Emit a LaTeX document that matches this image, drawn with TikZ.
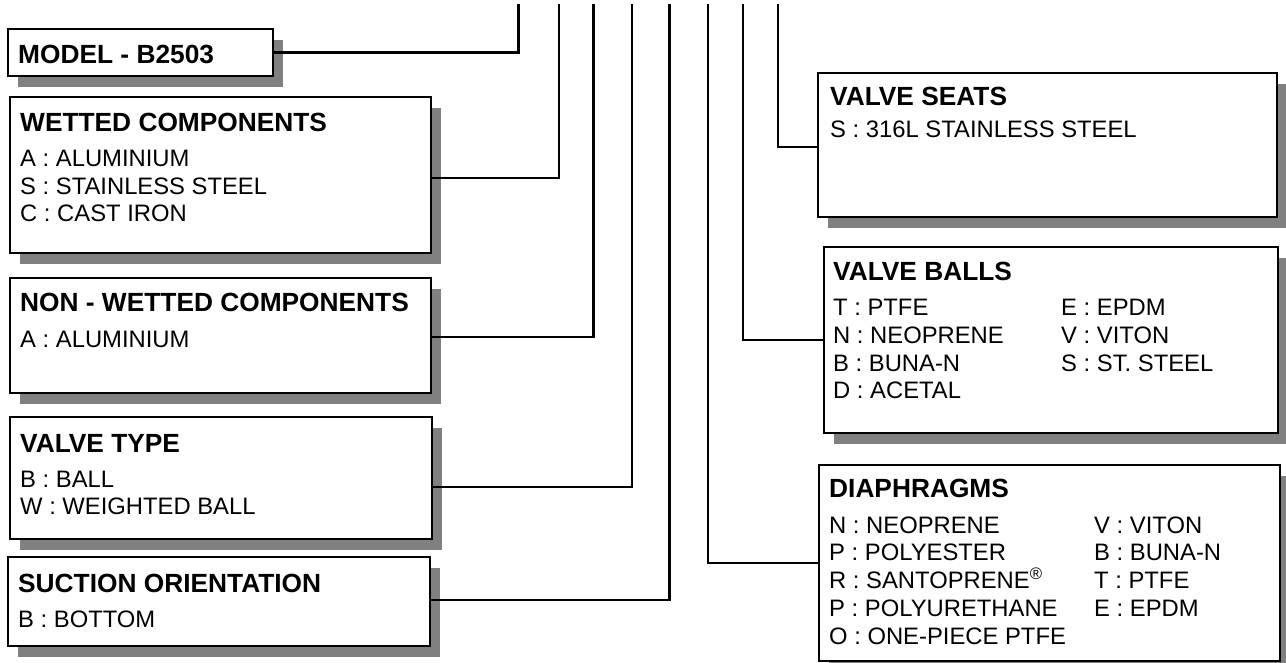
\documentclass[tikz,border=0pt]{standalone}
\usepackage{fontspec}
\setmainfont{Liberation Sans}
\usetikzlibrary{shadows}
\definecolor{shadowgray}{HTML}{808080}
\begin{document}
\begin{tikzpicture}[x=1pt,y=1pt,
  box/.style={rectangle, draw=black, line width=2.9pt, fill=white, inner sep=0pt, outer sep=0pt,
    anchor=north west,
    drop shadow={shadow xshift=10pt, shadow yshift=-11pt, fill=shadowgray, opacity=1}},
  conn/.style={line width=2.8pt, line join=miter},
  title/.style={inner sep=0pt, anchor=base west, font=\fontsize{26.3}{30}\selectfont\bfseries},
  body/.style={inner sep=0pt, anchor=base west, font=\fontsize{23.8}{27.5}\selectfont}]
\useasboundingbox (0,0) rectangle (1286,-663);
\clip (0,0) rectangle (1286,-663);

% top ends of the code lines
\coordinate (t1) at (518.5,-4);
\coordinate (t2) at (559,-4);
\coordinate (t3) at (593.5,-4);
\coordinate (t4) at (632,-4);
\coordinate (t5) at (669.5,-4);
\coordinate (t6) at (708,-4);
\coordinate (t7) at (743,-4);
\coordinate (t8) at (778,-4);

% boxes
\node[box, minimum width=265pt, minimum height=47pt] (model) at (8,-29) {};
\node[box, minimum width=421pt, minimum height=156pt] (wet) at (10,-97) {};
\node[box, minimum width=421pt, minimum height=115pt] (nonwet) at (10,-278) {};
\node[box, minimum width=422pt, minimum height=122pt] (vtype) at (10,-417) {};
\node[box, minimum width=422pt, minimum height=89pt] (suction) at (8,-557) {};
\node[box, minimum width=459pt, minimum height=144pt] (seats) at (818,-73) {};
\node[box, minimum width=454pt, minimum height=186pt] (balls) at (824,-247) {};
\node[box, minimum width=461pt, minimum height=196pt] (diaph) at (819,-465) {};

% texts
\node[title] (modelT) at (18,-64) {MODEL - B2503};

\node[title] (wetT) at (20,-132) {WETTED COMPONENTS};
\foreach \t [count=\i] in {A : ALUMINIUM, S : STAINLESS STEEL, C : CAST IRON}
  \node[body] (wet\i) at (20,{-166.7-27.5*(\i-1)}) {\t};

\node[title] (nonwetT) at (20,-312) {NON - WETTED COMPONENTS};
\node[body] (nonwet1) at (20,-347) {A : ALUMINIUM};

\node[title] (vtypeT) at (20,-452) {VALVE TYPE};
\node[body] (vtype1) at (20,-487) {B : BALL};
\node[body] (vtype2) at (20,-514) {W : WEIGHTED BALL};

\node[title] (suctionT) at (18,-592) {SUCTION ORIENTATION};
\node[body] (suction1) at (18,-627) {B : BOTTOM};

\node[title] (seatsT) at (830,-106) {VALVE SEATS};
\node[body] (seats1) at (830,-138) {S : 316L STAINLESS STEEL};

\node[title] (ballsT) at (833,-281) {VALVE BALLS};
\foreach \t [count=\i] in {T : PTFE, N : NEOPRENE, B : BUNA-N, D : ACETAL}
  \node[body] (ballsa\i) at (833,{-316-27.5*(\i-1)}) {\t};
\foreach \t [count=\i] in {E : EPDM, V : VITON, S : ST. STEEL}
  \node[body] (ballsb\i) at (1061,{-316-27.5*(\i-1)}) {\t};

\node[title] (diaphT) at (829,-497) {DIAPHRAGMS};
\foreach \t [count=\i] in {N : NEOPRENE, P : POLYESTER, R : SANTOPRENE\textsuperscript{®}, P : POLYURETHANE, O : ONE-PIECE PTFE}
  \node[body] (diapha\i) at (829,{-533-27.8*(\i-1)}) {\t};
\foreach \t [count=\i] in {V : VITON, B : BUNA-N, T : PTFE, E : EPDM}
  \node[body] (diaphb\i) at (1094,{-533-27.8*(\i-1)}) {\t};

% connectors
\draw[conn] (model.east) -| (t1);
\draw[conn] ([yshift=-3pt]wet.east) -| (t2);
\draw[conn] ([yshift=-1.5pt]nonwet.east) -| (t3);
\draw[conn] ([yshift=-9pt]vtype.east) -| (t4);
\draw[conn] ([yshift=1.5pt]suction.east) -| (t5);
\draw[conn] (diaph.west) -| (t6);
\draw[conn] (balls.west) -| (t7);
\draw[conn] ([yshift=-2pt]seats.west) -| (t8);
\end{tikzpicture}
\end{document}
